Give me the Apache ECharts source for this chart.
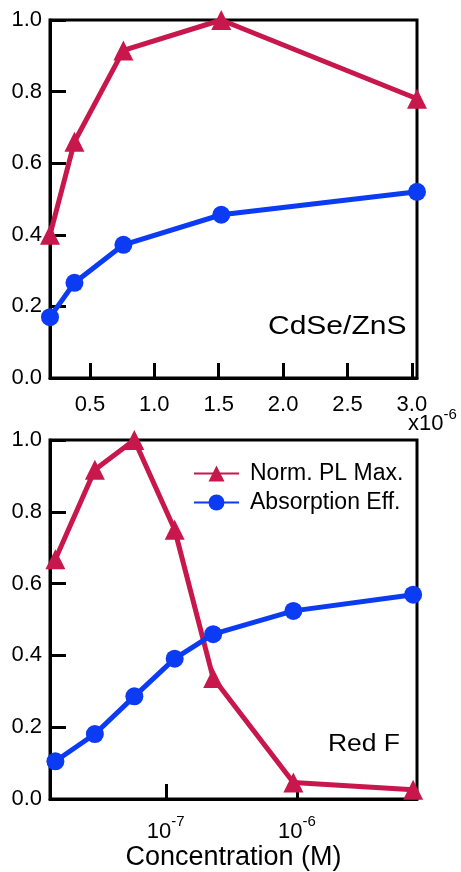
<!DOCTYPE html>
<html><head><meta charset="utf-8">
<script src="https://cdn.jsdelivr.net/npm/echarts@6/dist/echarts.min.js"></script>
<style>html,body{margin:0;padding:0;background:#fff}#c{width:461px;height:872px}</style>
</head><body><div id="c"></div>
<script>
// Top panel (CdSe/ZnS), concentration in units of 1e-6 M
const topConc = [0.19, 0.38, 0.76, 1.52, 3.04];
const topPL = [0.40, 0.66, 0.915, 1.0, 0.78];
const topAbs = [0.17, 0.266, 0.372, 0.456, 0.52];
const topXTicks = [0.5, 1.0, 1.5, 2.0, 2.5, 3.0];
// Bottom panel (Red F), concentration in M
const botConc = [1.44e-8, 2.88e-8, 5.76e-8, 1.17e-7, 2.3e-7, 9.4e-7, 7.7e-6];
const botPL = [0.668, 0.917, 1.0, 0.75, 0.337, 0.046, 0.026];
const botAbs = [0.105, 0.181, 0.286, 0.391, 0.459, 0.524, 0.569];
const botXTicks = [1e-7, 1e-6];
const seriesNames = ['Norm. PL Max.', 'Absorption Eff.'];
const panelLabels = ['CdSe/ZnS', 'Red F'];
const xAxisTitle = 'Concentration (M)';
const topScaleLabel = ['x10', '-6'];

const RED = '#C8174D', BLUE = '#0B3BF2', FONT = '"Liberation Sans", Arial, Helvetica, sans-serif';
const chart = echarts.init(document.getElementById('c'), null, {renderer: 'canvas'});

function yAxis(gi) {
  return {
    type: 'value', gridIndex: gi, min: 0, max: 1, interval: 0.2,
    axisLine: {show: true, lineStyle: {color: '#000', width: 3}},
    axisTick: {show: true, inside: true, length: 16, lineStyle: {color: '#000', width: 3}},
    axisLabel: {formatter: v => v.toFixed(1), fontSize: 22, color: '#000', fontFamily: FONT, margin: 8},
    splitLine: {show: false}
  };
}
const tickStyle = {show: true, inside: true, length: 15, lineStyle: {color: '#000', width: 3}};
function lineSeries(name, xs, ys, xi, sym, color, size) {
  return {
    name, type: 'line', xAxisIndex: xi, yAxisIndex: xi,
    data: xs.map((x, i) => [x, ys[i]]),
    symbol: sym, symbolSize: size, showSymbol: true, clip: false,
    lineStyle: {color, width: 5}, itemStyle: {color}, z: 5
  };
}

chart.setOption({
  animation: false,
  backgroundColor: '#fff',
  grid: [
    {left: 50, top: 20, width: 367, height: 358, show: true, borderColor: '#000', borderWidth: 3, backgroundColor: 'transparent', containLabel: false, outerBoundsMode: 'none'},
    {left: 50, top: 440, width: 367, height: 359, show: true, borderColor: '#000', borderWidth: 3, backgroundColor: 'transparent', containLabel: false, outerBoundsMode: 'none'}
  ],
  xAxis: [
    {
      type: 'value', gridIndex: 0, min: topConc[0], max: topConc[topConc.length - 1],
      axisLine: {show: true, lineStyle: {color: '#000', width: 3}},
      axisTick: Object.assign({customValues: topXTicks}, tickStyle),
      axisLabel: {customValues: topXTicks, formatter: v => v.toFixed(1), fontSize: 22, color: '#000', fontFamily: FONT, margin: 16},
      splitLine: {show: false}
    },
    {
      type: 'log', logBase: 10, gridIndex: 1, min: 1.31e-8, max: 8.24e-6,
      axisLine: {show: true, lineStyle: {color: '#000', width: 3}},
      axisTick: Object.assign({customValues: botXTicks}, tickStyle),
      minorTick: {show: false},
      axisLabel: {
        customValues: botXTicks, margin: 15, color: '#000', fontFamily: FONT,
        formatter: v => '{b|10}{s|' + Math.round(Math.log10(v)) + '}',
        rich: {
          b: {fontSize: 22, lineHeight: 36, fontFamily: FONT, color: '#000'},
          s: {fontSize: 15, lineHeight: 15, verticalAlign: 'top', fontFamily: FONT, color: '#000'}
        }
      },
      splitLine: {show: false},
      name: xAxisTitle, nameLocation: 'middle', nameGap: 45,
      nameTextStyle: {fontSize: 27, color: '#000', fontFamily: FONT}
    }
  ],
  yAxis: [yAxis(0), yAxis(1)],
  legend: {
    data: seriesNames, orient: 'vertical', left: 193, top: 462, padding: 0,
    itemWidth: 45, itemHeight: 20, itemGap: 6,
    textStyle: {fontSize: 23, color: '#000', fontFamily: FONT, padding: [0, 0, 0, 6]}
  },
  graphic: [
    {type: 'text', x: 268, y: 327, scaleX: 1.2, z: 10,
     style: {text: panelLabels[0], font: '25px ' + FONT, fill: '#000', textAlign: 'left', textVerticalAlign: 'middle'}},
    {type: 'text', x: 328, y: 745, scaleX: 1.15, z: 10,
     style: {text: panelLabels[1], font: '23px ' + FONT, fill: '#000', textAlign: 'left', textVerticalAlign: 'middle'}},
    {type: 'text', x: 408, y: 424, z: 10,
     style: {text: '{a|' + topScaleLabel[0] + '}{s|' + topScaleLabel[1] + '}', textAlign: 'left', textVerticalAlign: 'middle',
       rich: {a: {fontSize: 22, lineHeight: 34, fontFamily: FONT, fill: '#000'}, s: {fontSize: 15, lineHeight: 15, verticalAlign: 'top', fontFamily: FONT, fill: '#000'}}}}
  ],
  series: [
    lineSeries(seriesNames[0], topConc, topPL, 0, 'triangle', RED, 20),
    lineSeries(seriesNames[1], topConc, topAbs, 0, 'circle', BLUE, 18),
    lineSeries(seriesNames[0], botConc, botPL, 1, 'triangle', RED, 20),
    lineSeries(seriesNames[1], botConc, botAbs, 1, 'circle', BLUE, 18)
  ]
});
</script></body></html>
